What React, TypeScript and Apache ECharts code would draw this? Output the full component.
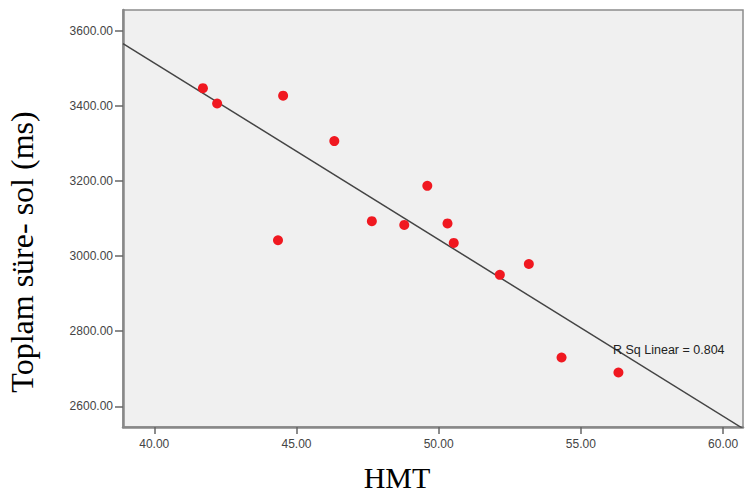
import React, { useEffect, useRef } from "react";
import * as echarts from "echarts";

const hmt = [41.71, 42.21, 44.53, 46.33, 44.35, 47.65, 48.79, 49.6, 50.31, 50.53, 52.15, 53.17, 54.32, 56.32];
const toplamSure = [3447, 3406, 3427, 3306, 3042, 3093, 3083, 3187, 3087, 3035, 2950, 2979, 2730, 2690];
const xTicks = [40, 45, 50, 55, 60];
const yTicks = [2600, 2800, 3000, 3200, 3400, 3600];
const xRange = [38.9, 60.7];
const yRange = [2545, 3655];
const xTitle = "HMT";
const yTitle = "Toplam süre- sol (ms)";
const rsqLabel = "R Sq Linear = 0.804";

function fitLine(xs: number[], ys: number[]) {
  const n = xs.length;
  const mx = xs.reduce((a, b) => a + b, 0) / n;
  const my = ys.reduce((a, b) => a + b, 0) / n;
  let sxy = 0;
  let sxx = 0;
  for (let i = 0; i < n; i++) {
    sxy += (xs[i] - mx) * (ys[i] - my);
    sxx += (xs[i] - mx) * (xs[i] - mx);
  }
  const slope = sxy / sxx;
  return { slope, intercept: my - slope * mx };
}

export default function App() {
  const ref = useRef<HTMLDivElement>(null);
  useEffect(() => {
    if (!ref.current) return;
    const chart = echarts.init(ref.current, null, { renderer: "svg" });
    const { slope, intercept } = fitLine(hmt, toplamSure);
    const lineData = [xRange[0], xRange[1]].map((x) => [x, intercept + slope * x]);
    const labelFont = { fontFamily: "Liberation Sans, Arial, sans-serif", fontSize: 12, color: "#444" };
    chart.setOption({
      animation: false,
      backgroundColor: "#ffffff",
      grid: {
        left: 123,
        top: 10,
        right: 4,
        bottom: 66,
        show: true,
        backgroundColor: "#f0f0f0",
        borderColor: "#8c8c8c",
        borderWidth: 1.5,
      },
      xAxis: {
        type: "value",
        min: xRange[0],
        max: xRange[1],
        splitLine: { show: false },
        axisLine: { show: true, onZero: false, lineStyle: { color: "#888", width: 2.5 } },
        axisTick: { show: true, length: 7, lineStyle: { color: "#666", width: 1.5 }, customValues: xTicks },
        axisLabel: { ...labelFont, margin: 11, customValues: xTicks, formatter: (v: number) => v.toFixed(2) },
      },
      yAxis: {
        type: "value",
        min: yRange[0],
        max: yRange[1],
        splitLine: { show: false },
        axisLine: { show: true, onZero: false, lineStyle: { color: "#888", width: 2.5 } },
        axisTick: { show: true, length: 8, lineStyle: { color: "#666", width: 1.5 }, customValues: yTicks },
        axisLabel: { ...labelFont, margin: 10, customValues: yTicks, formatter: (v: number) => v.toFixed(2) },
      },
      series: [
        {
          type: "line",
          data: lineData,
          symbol: "none",
          clip: true,
          lineStyle: { color: "#444", width: 1.5 },
          z: 2,
        },
        {
          type: "scatter",
          data: hmt.map((x, i) => [x, toplamSure[i]]),
          symbolSize: 10,
          itemStyle: { color: "#f01820", opacity: 1 },
          z: 3,
        },
      ],
      graphic: [
        {
          type: "text",
          x: 22,
          y: 252,
          rotation: Math.PI / 2,
          style: {
            text: yTitle,
            font: "32px 'Liberation Serif', 'Times New Roman', serif",
            fill: "#000",
            textAlign: "center",
            textVerticalAlign: "middle",
          },
        },
        {
          type: "text",
          x: 397,
          y: 477,
          style: {
            text: xTitle,
            font: "30px 'Liberation Serif', 'Times New Roman', serif",
            fill: "#000",
            textAlign: "center",
            textVerticalAlign: "middle",
          },
        },
        {
          type: "text",
          x: 613,
          y: 350,
          style: {
            text: rsqLabel,
            font: "12.5px 'Liberation Sans', Arial, sans-serif",
            fill: "#222",
            textAlign: "left",
            textVerticalAlign: "middle",
          },
          z: 10,
        },
      ],
    });
    return () => chart.dispose();
  }, []);
  return (
    <div
      ref={ref}
      style={{ position: "fixed", left: 0, top: 0, width: 747, height: 493 }}
    />
  );
}
